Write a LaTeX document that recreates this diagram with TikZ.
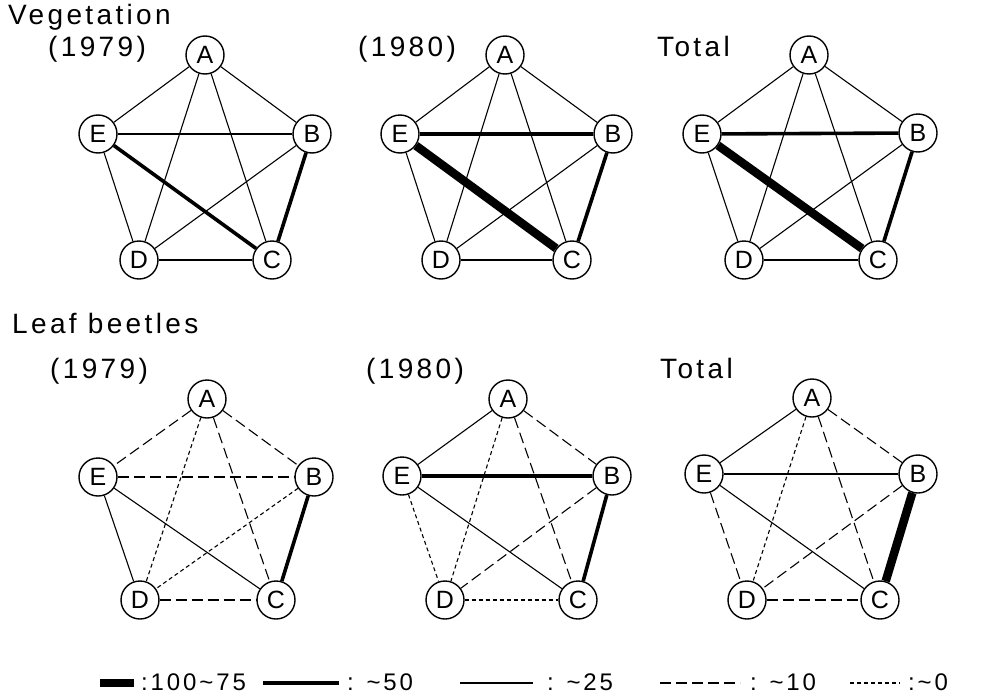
\documentclass[tikz,border=0pt]{standalone}
\usepackage{fontspec}
\setmainfont{Liberation Sans}
\newfontfamily\labfont[LetterSpace=12]{Liberation Sans}
\usepackage{tikz}

\begin{document}
\begin{tikzpicture}[x=1pt, y=-1pt, line cap=butt, line join=round,
  vert/.style={circle, draw, line width=1.4pt, fill=white, minimum size=38pt, inner sep=0pt, font=\fontsize{25}{28}\selectfont},
  e100/.style={line width=8.5pt},
  e50/.style={line width=3.6pt},
  e25/.style={line width=1.1pt},
  e10/.style={line width=1.1pt, dash pattern=on 11pt off 5pt},
  e0/.style={line width=1.1pt, dash pattern=on 4pt off 3pt},
  lab/.style={anchor=base west, inner sep=0pt, font=\labfont\fontsize{28}{32}\selectfont},
  keytxt/.style={anchor=base west, inner sep=0pt, font=\labfont\fontsize{24}{28}\selectfont}]

  %% ════ titles ════
  \node[lab] (tveg) at (8,24) {Vegetation};
  \node[lab] (tv1) at (48,56) {(1979)};
  \node[lab] (tv2) at (358,56) {(1980)};
  \node[lab] (tv3) at (657,56) {Total};
  \node[lab] (tleaf) at (12,333) {Leaf beetles};
  \node[lab] (tl1) at (50,378) {(1979)};
  \node[lab] (tl2) at (366,378) {(1980)};
  \node[lab] (tl3) at (660,378) {Total};

  %% ════ vertices (top row: vegetation) ════
  \node[vert] (v1A) at (205,55) {A};
  \node[vert] (v1E) at (98,134) {E};
  \node[vert] (v1B) at (312,134) {B};
  \node[vert] (v1D) at (139,260) {D};
  \node[vert] (v1C) at (272,260) {C};

  \node[vert] (v2A) at (505,55) {A};
  \node[vert] (v2E) at (400,134) {E};
  \node[vert] (v2B) at (613,134) {B};
  \node[vert] (v2D) at (441,260) {D};
  \node[vert] (v2C) at (572,260) {C};

  \node[vert] (v3A) at (809,55) {A};
  \node[vert] (v3E) at (702,134) {E};
  \node[vert] (v3B) at (918,133) {B};
  \node[vert] (v3D) at (744,260) {D};
  \node[vert] (v3C) at (878,260) {C};

  %% ════ vertices (bottom row: leaf beetles) ════
  \node[vert] (l1A) at (207,399) {A};
  \node[vert] (l1E) at (98,477) {E};
  \node[vert] (l1B) at (314,477) {B};
  \node[vert] (l1D) at (140,600) {D};
  \node[vert] (l1C) at (276,600) {C};

  \node[vert] (l2A) at (508,399) {A};
  \node[vert] (l2E) at (402,476) {E};
  \node[vert] (l2B) at (612,476) {B};
  \node[vert] (l2D) at (445,600) {D};
  \node[vert] (l2C) at (578,600) {C};

  \node[vert] (l3A) at (812,398) {A};
  \node[vert] (l3E) at (704,474) {E};
  \node[vert] (l3B) at (918,474) {B};
  \node[vert] (l3D) at (747,600) {D};
  \node[vert] (l3C) at (880,600) {C};

  %% ════ edges: vegetation 1979 ════
  \draw[e25] (v1A) -- (v1E);
  \draw[e25] (v1A) -- (v1B);
  \draw[e25] (v1A) -- (v1D);
  \draw[e25] (v1A) -- (v1C);
  \draw[e25] (v1E) -- (v1B);
  \draw[e50] (v1E) -- (v1C);
  \draw[e25] (v1E) -- (v1D);
  \draw[e25] (v1B) -- (v1D);
  \draw[e50] (v1B) -- (v1C);
  \draw[e25] (v1D) -- (v1C);

  %% ════ edges: vegetation 1980 ════
  \draw[e25] (v2A) -- (v2E);
  \draw[e25] (v2A) -- (v2B);
  \draw[e25] (v2A) -- (v2D);
  \draw[e25] (v2A) -- (v2C);
  \draw[e50] (v2E) -- (v2B);
  \draw[e100] (v2E) -- (v2C);
  \draw[e25] (v2E) -- (v2D);
  \draw[e25] (v2B) -- (v2D);
  \draw[e50] (v2B) -- (v2C);
  \draw[e25] (v2D) -- (v2C);

  %% ════ edges: vegetation total ════
  \draw[e25] (v3A) -- (v3E);
  \draw[e25] (v3A) -- (v3B);
  \draw[e25] (v3A) -- (v3D);
  \draw[e25] (v3A) -- (v3C);
  \draw[e50] (v3E) -- (v3B);
  \draw[e100] (v3E) -- (v3C);
  \draw[e25] (v3E) -- (v3D);
  \draw[e25] (v3B) -- (v3D);
  \draw[e50] (v3B) -- (v3C);
  \draw[e25] (v3D) -- (v3C);

  %% ════ edges: leaf beetles 1979 ════
  \draw[e10] (l1A) -- (l1E);
  \draw[e10] (l1A) -- (l1B);
  \draw[e0] (l1A) -- (l1D);
  \draw[e10] (l1A) -- (l1C);
  \draw[e10] (l1E) -- (l1B);
  \draw[e25] (l1E) -- (l1C);
  \draw[e25] (l1E) -- (l1D);
  \draw[e0] (l1B) -- (l1D);
  \draw[e50] (l1B) -- (l1C);
  \draw[e10] (l1D) -- (l1C);

  %% ════ edges: leaf beetles 1980 ════
  \draw[e25] (l2A) -- (l2E);
  \draw[e10] (l2A) -- (l2B);
  \draw[e0] (l2A) -- (l2D);
  \draw[e10] (l2A) -- (l2C);
  \draw[e50] (l2E) -- (l2B);
  \draw[e25] (l2E) -- (l2C);
  \draw[e0] (l2E) -- (l2D);
  \draw[e10] (l2B) -- (l2D);
  \draw[e50] (l2B) -- (l2C);
  \draw[e0] (l2D) -- (l2C);

  %% ════ edges: leaf beetles total ════
  \draw[e25] (l3A) -- (l3E);
  \draw[e10] (l3A) -- (l3B);
  \draw[e0] (l3A) -- (l3D);
  \draw[e10] (l3A) -- (l3C);
  \draw[e25] (l3E) -- (l3B);
  \draw[e25] (l3E) -- (l3C);
  \draw[e10] (l3E) -- (l3D);
  \draw[e10] (l3B) -- (l3D);
  \draw[e100] (l3B) -- (l3C);
  \draw[e10] (l3D) -- (l3C);

  %% ════ legend ════
  \coordinate (k100a) at (100,683);
  \coordinate (k100b) at (134,683);
  \coordinate (k50a) at (263,683);
  \coordinate (k50b) at (339,683);
  \coordinate (k25a) at (460,683);
  \coordinate (k25b) at (533,683);
  \coordinate (k10a) at (660,683);
  \coordinate (k10b) at (740,683);
  \coordinate (k0a) at (850,683);
  \coordinate (k0b) at (900,683);
  \draw[e100] (k100a) -- (k100b);
  \draw[e50] (k50a) -- (k50b);
  \draw[e25] (k25a) -- (k25b);
  \draw[e10] (k10a) -- (k10b);
  \draw[e0] (k0a) -- (k0b);
  \node[keytxt] (t100) at (141,690) {:100\textasciitilde75};
  \node[keytxt] (t50) at (347,690) {: \textasciitilde50};
  \node[keytxt] (t25) at (547,690) {: \textasciitilde25};
  \node[keytxt] (t10) at (750,690) {: \textasciitilde10};
  \node[keytxt] (t0) at (908,690) {:\textasciitilde0};

  % fix the canvas
  \pgfresetboundingbox
  \path[use as bounding box] (0,0) rectangle (990,696);
\end{tikzpicture}
\end{document}
